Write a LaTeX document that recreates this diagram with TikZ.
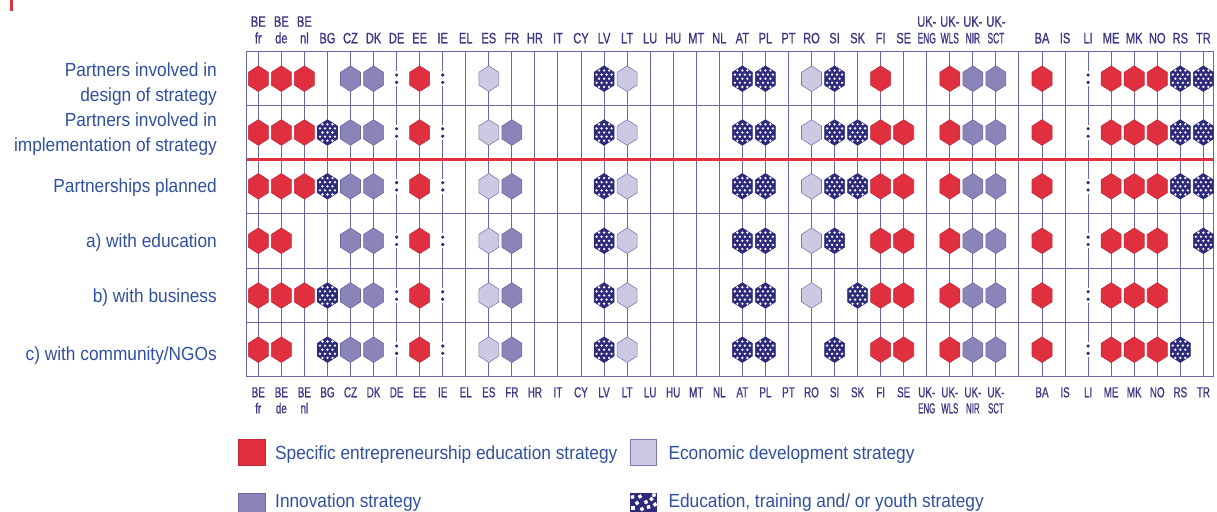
\documentclass[tikz,border=0pt]{standalone}
\usepackage{fontspec}
\setmainfont{Liberation Sans}
\newfontfamily\hdrfont[FakeStretch=0.74,FakeBold=0.8]{Liberation Sans}
\newfontfamily\narfont[FakeStretch=0.56,FakeBold=0.8]{Liberation Sans}
\newfontfamily\botfont[FakeStretch=0.68,FakeBold=0.8]{Liberation Sans}
\newfontfamily\botnarfont[FakeStretch=0.54,FakeBold=0.8]{Liberation Sans}
\newfontfamily\lblfont[FakeStretch=0.91]{Liberation Sans}
\definecolor{gridc}{HTML}{6A66AA}
\definecolor{hdrc}{HTML}{3B3786}
\definecolor{lblc}{HTML}{2F4FA0}
\definecolor{redc}{HTML}{E0303F}
\definecolor{redd}{HTML}{C4283A}
\definecolor{innc}{HTML}{8A84B8}
\definecolor{innd}{HTML}{6B66A6}
\definecolor{ecoc}{HTML}{CEC9E2}
\definecolor{ecod}{HTML}{7C77B2}
\definecolor{eduC}{HTML}{2E2A7C}
\tikzset{
  gridline/.style={draw=gridc, line width=1},
  toplab/.style={anchor=base, inner sep=0, text=hdrc, font=\hdrfont\fontsize{15}{16}\selectfont},
  topnar/.style={anchor=base, inner sep=0, text=hdrc, font=\narfont\fontsize{15}{16}\selectfont},
  botlab/.style={anchor=base, inner sep=0, text=hdrc, font=\botfont\fontsize{14.5}{16}\selectfont},
  botnar/.style={anchor=base, inner sep=0, text=hdrc, font=\botnarfont\fontsize{14.5}{16}\selectfont},
  rowlab/.style={anchor=base east, inner sep=0, text=lblc, font=\lblfont\fontsize{19}{22}\selectfont},
  leglab/.style={anchor=base west, inner sep=0, text=lblc, font=\lblfont\fontsize{19}{22}\selectfont},
  hR/.pic={\filldraw[fill=redc, draw=redd, line width=0.6] (0,-12.8) -- (10,-6.4) -- (10,6.4) -- (0,12.8) -- (-10,6.4) -- (-10,-6.4) -- cycle;},
  hI/.pic={\filldraw[fill=innc, draw=innd, line width=0.6] (0,-12.8) -- (10,-6.4) -- (10,6.4) -- (0,12.8) -- (-10,6.4) -- (-10,-6.4) -- cycle;},
  hE/.pic={\filldraw[fill=ecoc, draw=ecod, line width=0.6] (0,-12.8) -- (10,-6.4) -- (10,6.4) -- (0,12.8) -- (-10,6.4) -- (-10,-6.4) -- cycle;},
  hT/.pic={\filldraw[fill=eduC, draw=eduC, line width=0.6] (0,-12.8) -- (10,-6.4) -- (10,6.4) -- (0,12.8) -- (-10,6.4) -- (-10,-6.4) -- cycle;
    \foreach \yy in {-8.2,0,8.2} {\foreach \xx in {-5,0,5} {\fill[white] (\xx,\yy) circle (1.3);}}
    \foreach \yy in {-4.1,4.1} {\foreach \xx in {-7.5,-2.5,2.5,7.5} {\fill[white] (\xx,\yy) circle (1.3);}}},
  hC/.pic={\fill[white] (-2,-7.5) rectangle (2,7.5); \fill[eduC] (0,-3.7) circle (1.8) (0,3.7) circle (1.8);},
  hN/.pic={}
}
\begin{document}
\begin{tikzpicture}[x=1pt, y=-1pt]
\useasboundingbox (0,0) rectangle (1217,511);
\clip (0,0) rectangle (1217,511);
\def\xo{258.3}
\def\dx{23.05}
% red corner mark
\fill[redc] (10,0) rectangle (12.5,11.5);
% grid
\foreach \i in {0,...,41} {\draw[gridline] ({\xo+\i*\dx},51.7) -- ({\xo+\i*\dx},376.7);}
\foreach \yy in {105.7,213.3,268.3,322.7} {\draw[gridline] (246.7,\yy) -- (1213.3,\yy);}
\draw[gridline] (246.7,51.7) rectangle (1213.3,376.7);
\draw[redc, line width=2.5] (246.7,159.3) -- (1213.3,159.3);
% rows of symbols
\foreach \c [count=\i from 0] in {R,R,R,N,I,I,C,R,C,N,E,N,N,N,N,T,E,N,N,N,N,T,T,N,E,T,N,R,N,N,R,I,I,N,R,N,C,R,R,R,T,T}
  {\pic at ({\xo+\i*\dx},78.7) {h\c};}
\foreach \c [count=\i from 0] in {R,R,R,T,I,I,C,R,C,N,E,I,N,N,N,T,E,N,N,N,N,T,T,N,E,T,T,R,R,N,R,I,I,N,R,N,C,R,R,R,T,T}
  {\pic at ({\xo+\i*\dx},132.5) {h\c};}
\foreach \c [count=\i from 0] in {R,R,R,T,I,I,C,R,C,N,E,I,N,N,N,T,E,N,N,N,N,T,T,N,E,T,T,R,R,N,R,I,I,N,R,N,C,R,R,R,T,T}
  {\pic at ({\xo+\i*\dx},186.3) {h\c};}
\foreach \c [count=\i from 0] in {R,R,N,N,I,I,C,R,C,N,E,I,N,N,N,T,E,N,N,N,N,T,T,N,E,T,N,R,R,N,R,I,I,N,R,N,C,R,R,R,N,T}
  {\pic at ({\xo+\i*\dx},240.8) {h\c};}
\foreach \c [count=\i from 0] in {R,R,R,T,I,I,C,R,C,N,E,I,N,N,N,T,E,N,N,N,N,T,T,N,E,N,T,R,R,N,R,I,I,N,R,N,C,R,R,R,N,N}
  {\pic at ({\xo+\i*\dx},295.5) {h\c};}
\foreach \c [count=\i from 0] in {R,R,N,T,I,I,C,R,C,N,E,I,N,N,N,T,E,N,N,N,N,T,T,N,N,T,N,R,R,N,R,I,I,N,R,N,C,R,R,R,T,N}
  {\pic at ({\xo+\i*\dx},349.7) {h\c};}
% top and bottom column labels
\foreach \i/\t in {3/BG,4/CZ,5/DK,6/DE,7/EE,8/IE,9/EL,10/ES,11/FR,12/HR,13/IT,14/CY,15/LV,16/LT,17/LU,18/HU,19/MT,20/NL,21/AT,22/PL,23/PT,24/RO,25/SI,26/SK,27/FI,28/SE,34/BA,35/IS,36/LI,37/ME,38/MK,39/NO,40/RS,41/TR}
  {\node[toplab] (top\i) at ({\xo+\i*\dx},43.3) {\t};
   \node[botlab] (bot\i) at ({\xo+\i*\dx},397.3) {\t};}
\foreach \i/\a/\b in {0/BE/fr,1/BE/de,2/BE/nl}
  {\node[toplab] (topa\i) at ({\xo+\i*\dx},26.7) {\a};
   \node[toplab] (top\i) at ({\xo+\i*\dx},43.3) {\b};
   \node[botlab] (bota\i) at ({\xo+\i*\dx},397.3) {\a};
   \node[botlab] (bot\i) at ({\xo+\i*\dx},413.3) {\b};}
\foreach \i/\a/\b in {29/UK-/ENG,30/UK-/WLS,31/UK-/NIR,32/UK-/SCT}
  {\node[toplab] (topa\i) at ({\xo+\i*\dx},26.7) {\a};
   \node[topnar] (top\i) at ({\xo+\i*\dx},43.3) {\b};
   \node[botlab] (bota\i) at ({\xo+\i*\dx},397.3) {\a};
   \node[botnar] (bot\i) at ({\xo+\i*\dx},413.3) {\b};}
% row labels
\node[rowlab] (r1a) at (217,76) {Partners involved in};
\node[rowlab] (r1b) at (217,101.5) {design of strategy};
\node[rowlab] (r2a) at (217,126) {Partners involved in};
\node[rowlab] (r2b) at (217,151) {implementation of strategy};
\node[rowlab] (r3) at (217,192.7) {Partnerships planned};
\node[rowlab] (r4) at (217,247.7) {a) with education};
\node[rowlab] (r5) at (217,302.7) {b) with business};
\node[rowlab] (r6) at (217,360) {c) with community/NGOs};
% legend
\filldraw[fill=redc, draw=redd, line width=0.6] (238.3,439.3) rectangle (265,465.7);
\node[leglab] (l1) at (275,459.3) {Specific entrepreneurship education strategy};
\filldraw[fill=ecoc, draw=ecod, line width=0.8] (630,439.3) rectangle (656.7,465.7);
\node[leglab] (l2) at (668.3,459.3) {Economic development strategy};
\filldraw[fill=innc, draw=innd, line width=0.6] (238.3,493.3) rectangle (265,520);
\node[leglab] (l3) at (275,507.3) {Innovation strategy};
\fill[eduC] (630,493.3) rectangle (656.7,520);
\foreach \px/\py/\r in {632.5/497/10,640/496.5/35,646/502/20,651.5/499/45,654/495/15,637/503/30,648.5/507/10,655/504.5/40,642/509/25,633/508/0}
  {\fill[white, rotate around={\r:(\px,\py)}] (\px-1.7,\py-1.7) rectangle (\px+1.7,\py+1.7);}
\node[leglab] (l4) at (668.3,507.3) {Education, training and/ or youth strategy};
\end{tikzpicture}
\end{document}
